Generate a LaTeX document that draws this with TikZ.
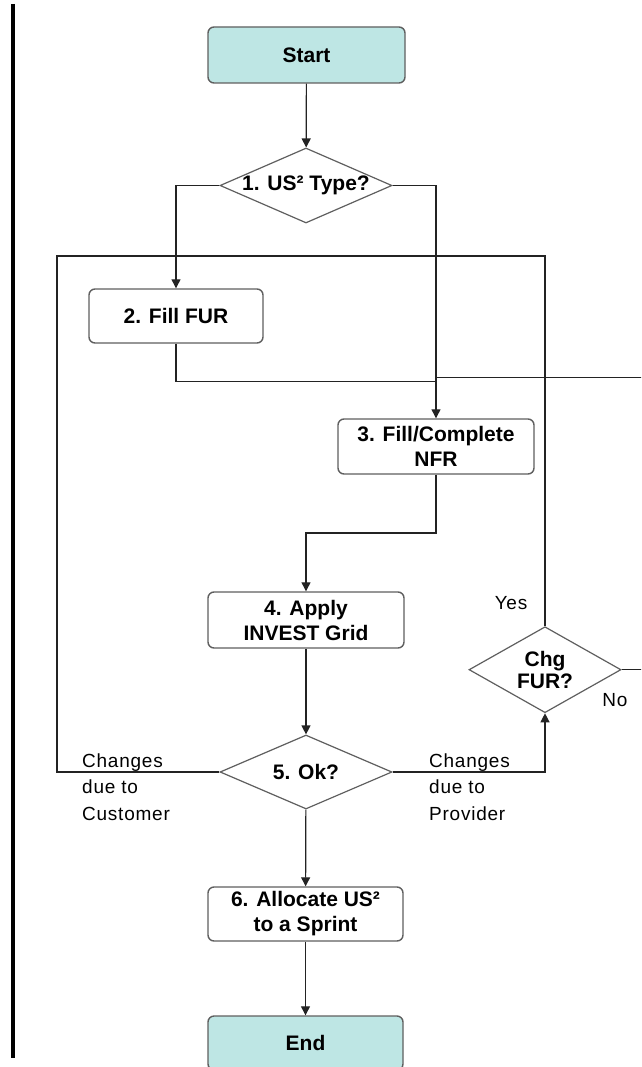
\documentclass[tikz,border=0pt]{standalone}
\usepackage{fontspec}
\setmainfont{Liberation Sans}
\newfontfamily\lblfont[LetterSpace=4]{Liberation Sans}
\usetikzlibrary{shapes.geometric,arrows.meta}
\definecolor{teal1}{RGB}{190,230,228}
\definecolor{edge}{RGB}{95,95,95}
\definecolor{wire}{RGB}{35,35,35}
\begin{document}
\begin{tikzpicture}[x=1pt,y=-1pt,
  stepbox/.style={draw=edge,line width=1.4pt,rounded corners=6pt,fill=white,
    inner sep=0pt,align=center,font=\bfseries\fontsize{21}{25}\selectfont},
  termbox/.style={stepbox,fill=teal1},
  dia/.style={draw=edge,line width=1.2pt,shape=diamond,inner sep=0pt,fill=white},
  bold/.style={font=\bfseries\fontsize{21}{22}\selectfont,align=center,inner sep=0pt},
  lbl/.style={font=\lblfont\fontsize{19}{26.5}\selectfont,align=left,inner sep=0pt},
  wirestyle/.style={draw=wire,line width=1.2pt},
  arr/.style={wirestyle,-{Triangle[width=9pt,length=9pt]}}]
\useasboundingbox (0,0) rectangle (641,1067);
\clip (0,0) rectangle (641,1067);
% left bar
\draw[line width=4.5pt,black] (13,4) -- (13,1058);
% nodes
\node[termbox,minimum width=197,minimum height=56] (start) at (306.5,55) {Start};
\node[dia,minimum width=172,minimum height=75,label={[bold]center:1. US² Type?}] (d1) at (306,185.5) {};
\node[stepbox,minimum width=174,minimum height=54] (fur) at (176,316) {2. Fill FUR};
\node[stepbox,minimum width=196,minimum height=55] (nfr) at (436,446.5) {3. Fill/Complete\\NFR};
\node[stepbox,minimum width=196,minimum height=56] (inv) at (306,620) {4. Apply\\INVEST Grid};
\node[dia,minimum width=172,minimum height=74,label={[bold]center:5. Ok?}] (d5) at (306,772) {};
\node[dia,minimum width=152,minimum height=86,label={[bold]center:Chg\\FUR?}] (chg) at (545,669.7) {};
\node[stepbox,minimum width=195,minimum height=54] (alloc) at (305.5,914) {6. Allocate US²\\to a Sprint};
\node[termbox,minimum width=195,minimum height=54] (end) at (305.5,1043) {End};
% labels
\node[lbl,anchor=north west] (cust) at (82,753.5) {Changes\\due to\\Customer};
\node[lbl,anchor=north west] (prov) at (429,753.5) {Changes\\due to\\Provider};
\node[lbl] (yes) at (511,603) {Yes};
\node[lbl] (no) at (615,700) {No};
% coordinates
\coordinate (j1) at (436,381.7);
\coordinate (jno) at (436,377.7);
\coordinate (b3) at (436,533);
\coordinate (lt) at (57,256);
\coordinate (rt) at (545,256);
\coordinate (far) at (680,669.7);
% connectors
\draw[arr] (start) -- (d1);
\draw[arr] (d1.west) -| (fur.north);
\draw[arr] (d1.east) -| (nfr.north);
\draw[wirestyle] (fur.south) |- (j1);
\draw[wirestyle] (chg.east) -- (far) |- (jno);
\draw[arr] (nfr.south) -- (b3) -| (inv.north);
\draw[arr] (inv) -- (d5);
\draw[wirestyle] (d5.west) -| (lt) -- (rt) -- (chg.north);
\draw[arr] (d5.east) -| (chg.south);
\draw[arr] (d5) -- (alloc);
\draw[arr] (alloc) -- (end);
\end{tikzpicture}
\end{document}
